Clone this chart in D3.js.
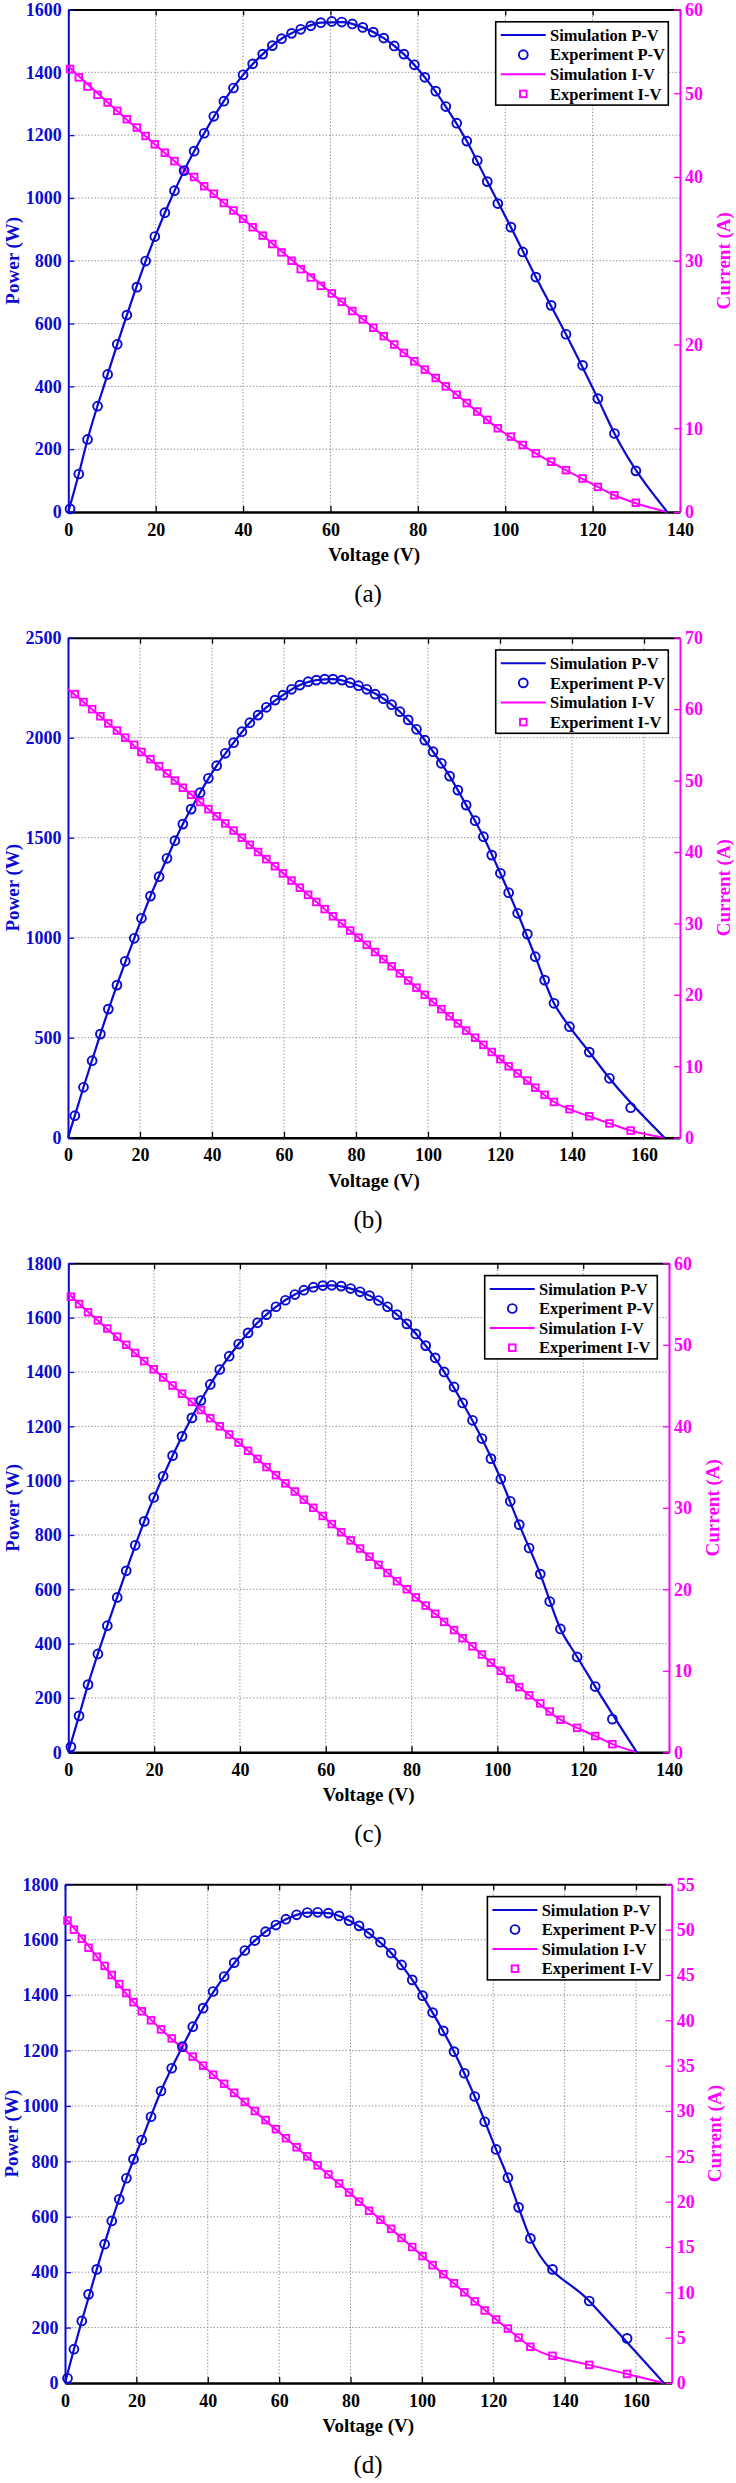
<!DOCTYPE html>
<html>
<head>
<meta charset="utf-8">
<script src="https://cdn.jsdelivr.net/npm/d3@7"></script>
<style>
  body { margin: 0; background: #fff; }
  text { font-family: "Liberation Serif", "Times New Roman", serif; }
</style>
</head>
<body>
<script>

  // ---- panel (a) ----
  var voltA = [0.4, 2.4, 4.4, 6.7, 9.0, 11.2, 13.4, 15.7, 17.7, 19.8, 22.1, 24.3, 26.5, 28.8, 31.1, 33.3, 35.6, 37.8, 40.0, 42.2,
    44.5, 46.7, 48.8, 51.1, 53.2, 55.5, 57.8, 60.3, 62.6, 65.0, 67.4, 69.8, 72.2, 74.6, 76.8, 79.2, 81.6, 84.1, 86.4, 88.9,
    91.2, 93.6, 95.9, 98.3, 101.3, 104.0, 107.0, 110.5, 113.9, 117.7, 121.2, 125.0, 129.9];
  var powerA = [10, 121, 231, 337, 438, 534, 627, 716, 799, 877, 953, 1023, 1087, 1149, 1206, 1260, 1308, 1350, 1392, 1427,
    1458, 1485, 1507, 1524, 1537, 1548, 1558, 1562, 1560, 1554, 1543, 1528, 1509, 1484, 1458, 1424, 1384, 1340, 1291, 1238,
    1181, 1119, 1052, 982, 907, 828, 748, 658, 566, 467, 361, 250, 131];
  var currentA = [52.9, 51.9, 50.8, 49.8, 48.9, 47.9, 46.9, 45.9, 44.9, 43.9, 42.9, 41.9, 40.8, 40.0, 38.9, 38.0, 36.9, 36.0, 35.0, 34.0,
    33.0, 32.0, 31.0, 30.0, 29.0, 28.0, 27.0, 26.1, 25.1, 24, 23, 22, 21, 20, 19, 18, 17, 16, 15, 14,
    13, 12, 11, 10, 9, 8, 7, 6, 5, 4, 3, 2, 1.1];
  var simVoltA = [0, 2.4, 4.4, 9.0, 13.4, 17.7, 22.1, 26.5, 31.1, 35.6, 40.0, 44.5, 48.8, 53.2, 57.8, 62.6, 67.4, 72.2, 76.8, 81.6,
    86.4, 91.2, 95.9, 101.3, 107.0, 113.9, 121.2, 125.0, 137.1];
  var simPowerA = [0, 121, 231, 438, 627, 799, 953, 1087, 1206, 1308, 1392, 1458, 1507, 1537, 1558, 1560, 1543, 1509, 1458, 1384,
    1291, 1181, 1052, 907, 748, 566, 361, 250, 0];
  var simIVoltA = [0, 19.8, 40.0, 60.3, 69.8, 79.2, 88.9, 98.3, 107.0, 113.9, 121.2, 125.0, 129.9, 137.1];
  var simCurrentA = [53.2, 43.9, 35.0, 26.1, 22, 18, 14, 10, 7, 5, 3, 2, 1.05, 0];
  var voltTicksA = [0, 20, 40, 60, 80, 100, 120, 140];
  var powerTicksA = [0, 200, 400, 600, 800, 1000, 1200, 1400, 1600];
  var currentTicksA = [0, 10, 20, 30, 40, 50, 60];

  // ---- panel (b) ----
  var voltB = [1.9, 4.3, 6.7, 9.0, 11.2, 13.6, 15.9, 18.4, 20.4, 22.9, 25.3, 27.5, 29.7, 31.9, 34.2, 36.7, 39.0, 41.3, 43.7, 46.0,
    48.3, 50.5, 52.8, 55.1, 57.5, 59.7, 62.1, 64.4, 66.7, 69.0, 71.3, 73.6, 76.1, 78.4, 80.7, 83.0, 85.3, 87.6, 89.9, 92.2,
    94.5, 96.8, 99.1, 101.4, 103.7, 106.0, 108.3, 110.6, 113.1, 115.4, 117.7, 120.1, 122.4, 124.9, 127.6, 129.8, 132.4, 135.0, 139.3, 144.8,
    150.4, 156.3];
  var powerB = [110, 252, 385, 518, 643, 763, 882, 997, 1097, 1208, 1305, 1397, 1485, 1568, 1643, 1725, 1797, 1860, 1922, 1975,
    2030, 2075, 2113, 2152, 2188, 2213, 2242, 2263, 2280, 2288, 2293, 2293, 2288, 2275, 2260, 2242, 2218, 2195, 2165, 2130,
    2089, 2042, 1988, 1930, 1872, 1808, 1738, 1663, 1585, 1505, 1413, 1322, 1225, 1122, 1018, 905, 788, 672, 555, 428,
    297, 150];
  var currentB = [62.1, 61, 60, 59, 58, 57, 56, 55, 54, 53, 52, 51, 50, 49, 48, 47, 46, 45, 44, 43,
    42, 41, 40, 39, 38, 37, 36, 35, 34, 33, 32, 31, 30, 29, 28, 27, 26, 25, 24, 23,
    22, 21, 20, 19, 18, 17, 16, 15, 14, 13, 12, 11, 10, 9, 8, 7, 6, 5, 4, 3,
    2, 1];
  var simVoltB = [0, 1.9, 4.3, 9.0, 13.6, 18.4, 22.9, 27.5, 31.9, 36.7, 41.3, 46.0, 50.5, 55.1, 59.7, 64.4, 69.0, 73.6, 78.4, 83.0,
    87.6, 92.2, 96.8, 101.4, 106.0, 110.6, 115.4, 120.1, 124.9, 129.8, 135.0, 139.3, 144.8, 150.4, 165.7];
  var simPowerB = [0, 110, 252, 518, 763, 997, 1208, 1397, 1568, 1725, 1860, 1975, 2075, 2152, 2213, 2263, 2288, 2293, 2275, 2242,
    2195, 2130, 2042, 1930, 1808, 1663, 1505, 1322, 1122, 905, 672, 555, 428, 297, 0];
  var simIVoltB = [0, 1.9, 20.4, 41.3, 62.1, 73.6, 83.0, 92.2, 101.4, 110.6, 120.1, 129.8, 135.0, 139.3, 144.8, 150.4, 156.3, 165.7];
  var simCurrentB = [62.8, 62, 54, 45, 36, 31, 27, 23, 19, 15, 11, 7, 5, 4, 3, 2, 1, 0];
  var voltTicksB = [0, 20, 40, 60, 80, 100, 120, 140, 160];
  var powerTicksB = [0, 500, 1000, 1500, 2000, 2500];
  var currentTicksB = [0, 10, 20, 30, 40, 50, 60, 70];

  // ---- panel (c) ----
  var voltC = [0.6, 2.5, 4.6, 6.9, 9.1, 11.4, 13.5, 15.6, 17.7, 19.9, 22.1, 24.3, 26.5, 28.8, 30.9, 33.1, 35.3, 37.5, 39.7, 41.9,
    44.1, 46.2, 48.4, 50.6, 52.8, 54.9, 57.1, 59.3, 61.4, 63.6, 65.8, 68.0, 70.2, 72.3, 74.4, 76.6, 78.9, 81.0, 83.3, 85.5,
    87.6, 89.9, 91.9, 94.2, 96.4, 98.5, 100.8, 103.0, 105.1, 107.4, 110.0, 112.2, 114.7, 118.6, 122.8, 126.8];
  var powerC = [20, 134, 249, 362, 466, 570, 668, 762, 850, 938, 1016, 1092, 1163, 1231, 1295, 1354, 1409, 1458, 1503, 1544,
    1581, 1611, 1640, 1664, 1685, 1701, 1712, 1718, 1719, 1716, 1707, 1695, 1681, 1663, 1640, 1611, 1577, 1540, 1497, 1452,
    1400, 1345, 1286, 1222, 1155, 1081, 1006, 924, 838, 752, 656, 555, 454, 351, 242, 122];
  var currentC = [55.9, 55, 54, 53, 52, 51, 50, 49, 48, 47, 46, 45, 44, 43, 42, 41, 40, 39, 38, 37,
    36, 35, 34, 33, 32, 31, 30, 29, 28, 27, 26, 25, 24, 23, 22, 21, 20, 19, 18, 17,
    16, 15, 14, 13, 12, 11, 10, 9, 8, 7, 6, 5, 4, 3, 2, 1];
  var simVoltC = [0, 2.5, 4.6, 9.1, 13.5, 17.7, 22.1, 26.5, 30.9, 35.3, 39.7, 44.1, 48.4, 52.8, 57.1, 61.4, 65.8, 70.2, 74.4, 78.9,
    83.3, 87.6, 91.9, 96.4, 100.8, 105.1, 110.0, 114.7, 118.6, 122.8, 132.5];
  var simPowerC = [0, 134, 249, 466, 668, 850, 1016, 1163, 1295, 1409, 1503, 1581, 1640, 1685, 1712, 1719, 1707, 1681, 1640, 1577,
    1497, 1400, 1286, 1155, 1006, 838, 656, 454, 351, 242, 0];
  var simIVoltC = [0, 0.6, 19.9, 41.9, 61.4, 72.3, 81.0, 89.9, 98.5, 107.4, 114.7, 118.6, 122.8, 126.8, 132.5];
  var simCurrentC = [56.3, 56, 47, 37, 28, 23, 19, 15, 11, 7, 4, 3, 2, 1, 0];
  var voltTicksC = [0, 20, 40, 60, 80, 100, 120, 140];
  var powerTicksC = [0, 200, 400, 600, 800, 1000, 1200, 1400, 1600, 1800];
  var currentTicksC = [0, 10, 20, 30, 40, 50, 60];

  // ---- panel (d) ----
  var voltD = [0.7, 2.5, 4.7, 6.6, 8.9, 11.1, 13.1, 15.2, 17.2, 19.2, 21.5, 24.1, 26.9, 29.9, 32.9, 35.8, 38.7, 41.5, 44.6, 47.4,
    50.4, 53.2, 56.2, 59.1, 61.9, 64.9, 67.9, 70.8, 73.8, 76.8, 79.6, 82.4, 85.2, 88.4, 91.4, 94.3, 97.3, 100.2, 103.0, 106.0,
    109.0, 111.9, 114.8, 117.6, 120.8, 124.1, 127.1, 130.4, 136.6, 146.9, 157.5];
  var powerD = [17, 122, 224, 320, 410, 501, 585, 663, 739, 808, 877, 961, 1054, 1136, 1214, 1286, 1353, 1413, 1467, 1517,
    1561, 1597, 1629, 1653, 1674, 1690, 1698, 1699, 1696, 1686, 1669, 1650, 1623, 1591, 1552, 1509, 1455, 1398, 1337, 1271,
    1196, 1118, 1034, 943, 843, 741, 634, 522, 410, 296, 161];
  var currentD = [51.0, 50, 49, 48, 47, 46, 45, 44, 43, 42, 41, 40, 39, 38, 37, 36, 35, 34, 33, 32,
    31, 30, 29, 28, 27, 26, 25, 24, 23, 22, 21, 20, 19, 18, 17, 16, 15, 14, 13, 12,
    11, 10, 9, 8, 7, 6, 5, 4, 3, 2, 1];
  var simVoltD = [0, 2.5, 4.7, 8.9, 13.1, 17.2, 21.5, 26.9, 32.9, 38.7, 44.6, 50.4, 56.2, 61.9, 67.9, 73.8, 79.6, 85.2, 91.4, 97.3,
    103.0, 109.0, 114.8, 120.8, 124.1, 127.1, 130.4, 146.9, 167.8];
  var simPowerD = [0, 122, 224, 410, 585, 739, 877, 1054, 1214, 1353, 1467, 1561, 1629, 1674, 1698, 1696, 1669, 1623, 1552, 1455,
    1337, 1196, 1034, 843, 741, 634, 522, 296, 0];
  var simIVoltD = [0, 0.7, 19.2, 41.5, 61.9, 79.6, 94.3, 106.0, 114.8, 120.8, 127.1, 130.4, 146.9, 157.5, 167.8];
  var simCurrentD = [51.3, 51, 42, 34, 27, 21, 16, 12, 9, 7, 5, 4, 2, 1, 0];
  var voltTicksD = [0, 20, 40, 60, 80, 100, 120, 140, 160];
  var powerTicksD = [0, 200, 400, 600, 800, 1000, 1200, 1400, 1600, 1800];
  var currentTicksD = [0, 5, 10, 15, 20, 25, 30, 35, 40, 45, 50, 55];

  var legendLabels = ["Simulation P-V", "Experiment P-V", "Simulation I-V", "Experiment I-V"];
  var captions = ["(a)", "(b)", "(c)", "(d)"];

  var blue = "#0a0ad2", magenta = "#ff00ff";

  // layout for each panel (pixels)
  var panels = [
    { volt: voltA, power: powerA, current: currentA, simV: simVoltA, simP: simPowerA, simIV: simIVoltA, simI: simCurrentA,
      vTicks: voltTicksA, pTicks: powerTicksA, iTicks: currentTicksA, vMax: 140,
      left: 68.3, right: 680, top: 9.5, bottom: 512 },
    { volt: voltB, power: powerB, current: currentB, simV: simVoltB, simP: simPowerB, simIV: simIVoltB, simI: simCurrentB,
      vTicks: voltTicksB, pTicks: powerTicksB, iTicks: currentTicksB, vMax: 170,
      left: 68, right: 680, top: 637.7, bottom: 1137.7 },
    { volt: voltC, power: powerC, current: currentC, simV: simVoltC, simP: simPowerC, simIV: simIVoltC, simI: simCurrentC,
      vTicks: voltTicksC, pTicks: powerTicksC, iTicks: currentTicksC, vMax: 140,
      left: 68.3, right: 669, top: 1263.3, bottom: 1752.3 },
    { volt: voltD, power: powerD, current: currentD, simV: simVoltD, simP: simPowerD, simIV: simIVoltD, simI: simCurrentD,
      vTicks: voltTicksD, pTicks: powerTicksD, iTicks: currentTicksD, vMax: 170,
      left: 65, right: 671.7, top: 1884.3, bottom: 2383 }
  ];

  var svg = d3.select("body").append("svg")
    .attr("width", 736)
    .attr("height", 2483);

  var plain = d3.format("d");

  // style an axis group
  var styleAxis = function (g, color, width, fontSize) {
    g.attr("font-family", null);
    g.select(".domain").attr("stroke", color).attr("stroke-width", width);
    g.selectAll(".tick line").attr("stroke", color).attr("stroke-width", 1.3);
    g.selectAll(".tick text")
      .attr("fill", color)
      .style("font-size", fontSize + "px")
      .style("font-weight", "bold");
  };

  var drawPanel = function (p, k) {
    var g = svg.append("g");
    var x = d3.scaleLinear().domain([0, p.vMax]).range([p.left, p.right]);
    var yP = d3.scaleLinear().domain([0, d3.max(p.pTicks)]).range([p.bottom, p.top]);
    var yI = d3.scaleLinear().domain([0, d3.max(p.iTicks)]).range([p.bottom, p.top]);

    // dotted grid
    g.selectAll(".vgrid").data(p.vTicks.filter(function (d) { return d > 0 && d < p.vMax; }))
      .enter().append("line")
      .attr("x1", function (d) { return x(d); }).attr("x2", function (d) { return x(d); })
      .attr("y1", p.top).attr("y2", p.bottom)
      .attr("stroke", "#8a8a8a").attr("stroke-width", 1).attr("stroke-dasharray", "1.3,2");
    g.selectAll(".hgrid").data(p.pTicks.filter(function (d) { return d > 0 && d < d3.max(p.pTicks); }))
      .enter().append("line")
      .attr("x1", p.left).attr("x2", p.right)
      .attr("y1", function (d) { return yP(d); }).attr("y2", function (d) { return yP(d); })
      .attr("stroke", "#8a8a8a").attr("stroke-width", 1).attr("stroke-dasharray", "1.3,2");

    // axes
    var top = g.append("g").attr("transform", "translate(0," + p.top + ")")
      .call(d3.axisTop(x).tickValues(p.vTicks).tickSize(-6).tickSizeOuter(0).tickFormat(""));
    styleAxis(top, "#000", 2, 18);
    var bottom = g.append("g").attr("transform", "translate(0," + p.bottom + ")")
      .call(d3.axisBottom(x).tickValues(p.vTicks).tickSize(-6).tickSizeOuter(0).tickPadding(11).tickFormat(plain));
    styleAxis(bottom, "#000", 2.6, 18);
    var leftAx = g.append("g").attr("transform", "translate(" + p.left + ",0)")
      .call(d3.axisLeft(yP).tickValues(p.pTicks).tickSize(-6).tickSizeOuter(0).tickPadding(6.5).tickFormat(plain));
    styleAxis(leftAx, blue, 2, 18);
    var rightAx = g.append("g").attr("transform", "translate(" + p.right + ",0)")
      .call(d3.axisRight(yI).tickValues(p.iTicks).tickSize(-6).tickSizeOuter(0).tickPadding(5).tickFormat(plain));
    styleAxis(rightAx, magenta, 2, 18);

    // axis titles
    var midY = (p.top + p.bottom) / 2;
    g.append("text")
      .attr("transform", "translate(" + Math.max(p.left - 56, 11) + "," + midY + ") rotate(-90)")
      .attr("text-anchor", "middle").attr("dy", "0.35em")
      .attr("fill", blue).style("font-size", "19px").style("font-weight", "bold")
      .text("Power (W)");
    g.append("text")
      .attr("transform", "translate(" + (p.right + 43) + "," + midY + ") rotate(-90)")
      .attr("text-anchor", "middle").attr("dy", "0.35em")
      .attr("fill", magenta).style("font-size", "19px").style("font-weight", "bold")
      .text("Current (A)");
    g.append("text")
      .attr("x", (p.left + p.right) / 2).attr("y", p.bottom + 49)
      .attr("text-anchor", "middle")
      .style("font-size", "19px").style("font-weight", "bold")
      .text("Voltage (V)");
    g.append("text")
      .attr("x", 368).attr("y", p.bottom + 90)
      .attr("text-anchor", "middle")
      .style("font-size", "25px")
      .text(captions[k]);

    // simulation curves
    var lineP = d3.line().curve(d3.curveMonotoneX)
      .x(function (d) { return x(d[0]); }).y(function (d) { return yP(d[1]); });
    var lineI = d3.line().curve(d3.curveMonotoneX)
      .x(function (d) { return x(d[0]); }).y(function (d) { return yI(d[1]); });
    g.append("path").datum(d3.zip(p.simIV, p.simI))
      .attr("d", lineI).attr("fill", "none").attr("stroke", magenta).attr("stroke-width", 2);
    g.append("path").datum(d3.zip(p.simV, p.simP))
      .attr("d", lineP).attr("fill", "none").attr("stroke", blue).attr("stroke-width", 2.2);

    // experiment markers
    g.selectAll(".sq").data(d3.zip(p.volt, p.current)).enter().append("rect")
      .attr("x", function (d) { return x(d[0]) - 3.3; })
      .attr("y", function (d) { return yI(d[1]) - 3.3; })
      .attr("width", 6.6).attr("height", 6.6)
      .attr("fill", "none").attr("stroke", magenta).attr("stroke-width", 1.9);
    g.selectAll(".ci").data(d3.zip(p.volt, p.power)).enter().append("circle")
      .attr("cx", function (d) { return x(d[0]); })
      .attr("cy", function (d) { return yP(d[1]); })
      .attr("r", 4.4)
      .attr("fill", "none").attr("stroke", blue).attr("stroke-width", 1.9);

    // legend
    var lw = 172.6, lh = 83.3;
    var lx = p.right - 11.7 - lw, ly = p.top + 12.3;
    var leg = g.append("g").attr("transform", "translate(" + lx + "," + ly + ")");
    leg.append("rect").attr("width", lw).attr("height", lh)
      .attr("fill", "#fff").attr("stroke", "#000").attr("stroke-width", 1.6);
    legendLabels.forEach(function (label, i) {
      var cy = 13.3 + i * 19.6;
      var col = i < 2 ? blue : magenta;
      if (i % 2 === 0) {
        leg.append("line").attr("x1", 5).attr("x2", 50).attr("y1", cy).attr("y2", cy)
          .attr("stroke", col).attr("stroke-width", 2);
      } else if (i === 1) {
        leg.append("circle").attr("cx", 27.6).attr("cy", cy).attr("r", 4.4)
          .attr("fill", "none").attr("stroke", col).attr("stroke-width", 1.9);
      } else {
        leg.append("rect").attr("x", 24.3).attr("y", cy - 3.3).attr("width", 6.6).attr("height", 6.6)
          .attr("fill", "none").attr("stroke", col).attr("stroke-width", 1.9);
      }
      leg.append("text").attr("x", 54.3).attr("y", cy).attr("dy", "0.35em")
        .style("font-size", "16.5px").style("font-weight", "bold")
        .text(label);
    });
  };

  panels.forEach(drawPanel);

</script>
</body>
</html>
